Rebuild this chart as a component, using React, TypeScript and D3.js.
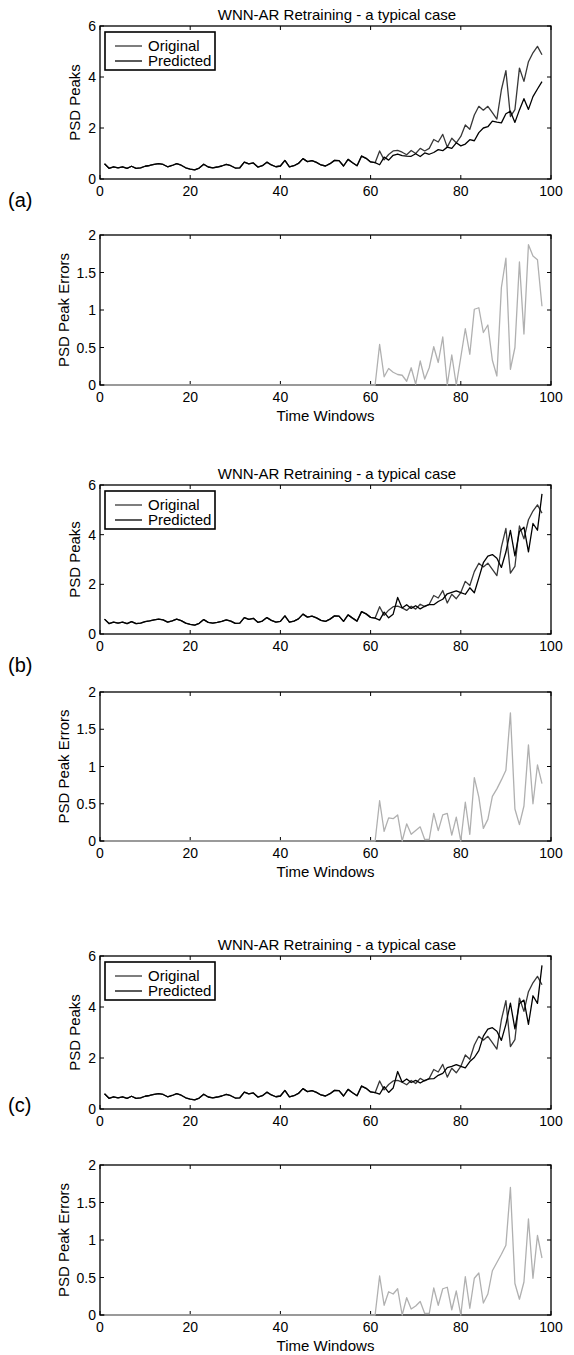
import React from "react";
import * as d3 from "d3";

// Time-window index 1..98
const windows: number[] = d3.range(1, 99);

// Original PSD peak series (shared by all three cases)
const originalPeaks: number[] = [
  0.60, 0.42, 0.48, 0.44, 0.48, 0.42, 0.50, 0.42, 0.44, 0.50,
  0.53, 0.57, 0.60, 0.57, 0.48, 0.53, 0.60, 0.54, 0.44, 0.39,
  0.36, 0.43, 0.58, 0.47, 0.44, 0.47, 0.51, 0.57, 0.52, 0.43,
  0.44, 0.66, 0.59, 0.63, 0.47, 0.52, 0.66, 0.55, 0.48, 0.51,
  0.73, 0.48, 0.52, 0.61, 0.80, 0.68, 0.72, 0.65, 0.55, 0.51,
  0.60, 0.73, 0.72, 0.51, 0.77, 0.64, 0.52, 0.90, 0.81, 0.67,
  0.64, 1.10, 0.75, 0.96, 1.10, 1.12, 1.05, 0.95, 1.12, 1.00,
  1.20, 1.10, 1.20, 1.55, 1.45, 1.75, 1.25, 1.60, 1.42, 1.67,
  2.12, 1.95, 2.51, 2.85, 2.70, 2.85, 2.60, 2.35, 3.50, 4.25,
  2.45, 2.72, 4.35, 3.83, 4.60, 4.95, 5.20, 4.87,
];

// Predictions after window 61 (before that the prediction equals the original)
const predictedTailA: number[] = [
  0.56, 0.86, 0.74, 0.93, 0.98, 0.92, 0.90, 0.89, 0.99,
  0.88, 1.02, 0.97, 1.04, 1.15, 1.11, 1.25, 1.20, 1.42, 1.30,
  1.37, 1.54, 1.50, 1.82, 2.00, 2.05, 2.27, 2.23, 2.20, 2.56,
  2.66, 2.22, 2.71, 3.15, 2.73, 3.23, 3.53, 3.82,
];
const predictedTailB: number[] = [
  0.56, 0.88, 0.65, 0.80, 1.47, 1.05, 1.18, 1.03, 1.14,
  1.01, 1.12, 1.18, 1.18, 1.31, 1.40, 1.62, 1.68, 1.74, 1.67,
  1.60, 1.86, 1.66, 2.26, 2.87, 3.14, 3.20, 3.05, 2.68, 3.30,
  4.17, 3.15, 4.13, 4.30, 3.31, 4.45, 4.18, 5.64,
];
const predictedTailC: number[] = [
  0.58, 0.88, 0.65, 0.82, 1.47, 1.05, 1.18, 1.04, 1.12,
  1.02, 1.12, 1.18, 1.19, 1.32, 1.40, 1.62, 1.67, 1.74, 1.67,
  1.61, 1.86, 2.02, 2.29, 2.86, 3.13, 3.19, 3.05, 2.69, 3.32,
  4.15, 3.14, 4.14, 4.27, 3.32, 4.44, 4.14, 5.63,
];

const predictedA = [...originalPeaks.slice(0, 61), ...predictedTailA];
const predictedB = [...originalPeaks.slice(0, 61), ...predictedTailB];
const predictedC = [...originalPeaks.slice(0, 61), ...predictedTailC];

// Peak errors: zero for windows 1..60
const errorHead: number[] = [
  0, 0, 0, 0, 0, 0, 0, 0, 0, 0, 0, 0, 0, 0, 0, 0, 0, 0, 0, 0,
  0, 0, 0, 0, 0, 0, 0, 0, 0, 0, 0, 0, 0, 0, 0, 0, 0, 0, 0, 0,
  0, 0, 0, 0, 0, 0, 0, 0, 0, 0, 0, 0, 0, 0, 0, 0, 0, 0, 0, 0,
];
const errorTailA: number[] = [
  0.00, 0.54, 0.11, 0.22, 0.17, 0.14, 0.13, 0.05, 0.23, 0.01,
  0.32, 0.08, 0.23, 0.51, 0.30, 0.64, 0.00, 0.40, 0.00, 0.37,
  0.75, 0.41, 1.01, 1.03, 0.70, 0.80, 0.33, 0.12, 1.30, 1.69,
  0.21, 0.50, 1.64, 0.68, 1.87, 1.72, 1.67, 1.05,
];
const errorTailB: number[] = [
  0.00, 0.54, 0.13, 0.31, 0.30, 0.35, 0.00, 0.23, 0.09, 0.14,
  0.19, 0.02, 0.02, 0.37, 0.14, 0.35, 0.37, 0.08, 0.32, 0.00,
  0.52, 0.09, 0.85, 0.59, 0.17, 0.29, 0.60, 0.70, 0.82, 0.95,
  1.72, 0.43, 0.22, 0.47, 1.29, 0.50, 1.02, 0.77,
];
const errorTailC: number[] = [
  0.00, 0.52, 0.13, 0.31, 0.28, 0.35, 0.00, 0.23, 0.08, 0.12,
  0.18, 0.02, 0.02, 0.36, 0.13, 0.35, 0.37, 0.07, 0.32, 0.00,
  0.51, 0.09, 0.49, 0.56, 0.16, 0.28, 0.59, 0.70, 0.81, 0.93,
  1.70, 0.42, 0.21, 0.44, 1.28, 0.49, 1.06, 0.76,
];
const errorA = [...errorHead, ...errorTailA];
const errorB = [...errorHead, ...errorTailB];
const errorC = [...errorHead, ...errorTailC];

const xTicks = [0, 20, 40, 60, 80, 100];
const peakTicks = [0, 2, 4, 6];
const errorTicks = [0, 0.5, 1, 1.5, 2];

const TITLE = "WNN-AR Retraining - a typical case";
const FONT = "'Liberation Sans', Arial, Helvetica, sans-serif";
const ORIGINAL_COLOR = "#383838";
const PREDICTED_COLOR = "#000000";
const ERROR_COLOR = "#b0b0b0";

const LEFT = 100;
const RIGHT = 551;

type Series = { values: number[]; color: string; width: number };

type PanelProps = {
  top: number;
  bottom: number;
  yMax: number;
  yTicks: number[];
  series: Series[];
  yLabel: string;
  yLabelX: number;
  title?: boolean;
  legend?: boolean;
  xLabel?: boolean;
};

function Panel({ top, bottom, yMax, yTicks, series, yLabel, yLabelX, title, legend, xLabel }: PanelProps) {
  const x = d3.scaleLinear().domain([0, 100]).range([LEFT, RIGHT]);
  const y = d3.scaleLinear().domain([0, yMax]).range([bottom, top]);
  const tickLen = 4;
  const midY = (top + bottom) / 2;

  return (
    <g>
      {/* tick marks on all four sides */}
      {xTicks.map((t) => (
        <g key={"xt" + t}>
          <line x1={x(t)} x2={x(t)} y1={bottom} y2={bottom - tickLen} stroke="#000" />
          <line x1={x(t)} x2={x(t)} y1={top} y2={top + tickLen} stroke="#000" />
          <text x={x(t)} y={bottom + 17} fontSize={14} textAnchor="middle" fontFamily={FONT}>
            {t}
          </text>
        </g>
      ))}
      {yTicks.map((t) => (
        <g key={"yt" + t}>
          <line x1={LEFT} x2={LEFT + tickLen} y1={y(t)} y2={y(t)} stroke="#000" />
          <line x1={RIGHT} x2={RIGHT - tickLen} y1={y(t)} y2={y(t)} stroke="#000" />
          <text x={LEFT - 4} y={y(t) + 5} fontSize={14} textAnchor="end" fontFamily={FONT}>
            {String(t)}
          </text>
        </g>
      ))}
      <rect x={LEFT} y={top} width={RIGHT - LEFT} height={bottom - top} fill="none" stroke="#000" strokeWidth={1.3} />

      {series.map((s, i) => {
        const line = d3
          .line<number>()
          .x((_, k) => x(windows[k]))
          .y((v) => y(v));
        return <path key={i} d={line(s.values) || ""} fill="none" stroke={s.color} strokeWidth={s.width} strokeLinejoin="round" />;
      })}

      <text
        transform={`translate(${yLabelX},${midY}) rotate(-90)`}
        fontSize={15}
        textAnchor="middle"
        fontFamily={FONT}
      >
        {yLabel}
      </text>

      {title && (
        <text x={337} y={top - 6} fontSize={15} textAnchor="middle" fontFamily={FONT}>
          {TITLE}
        </text>
      )}

      {xLabel && (
        <text x={(LEFT + RIGHT) / 2} y={bottom + 36} fontSize={15} textAnchor="middle" fontFamily={FONT}>
          Time Windows
        </text>
      )}

      {legend && (
        <g>
          <rect x={105} y={top + 6} width={110} height={38} fill="#fff" stroke="#000" strokeWidth={1.6} />
          <line x1={115} x2={142} y1={top + 20} y2={top + 20} stroke={ORIGINAL_COLOR} strokeWidth={1.3} />
          <line x1={115} x2={142} y1={top + 35} y2={top + 35} stroke={PREDICTED_COLOR} strokeWidth={1.3} />
          <text x={148} y={top + 25} fontSize={15} fontFamily={FONT}>
            Original
          </text>
          <text x={148} y={top + 40} fontSize={15} fontFamily={FONT}>
            Predicted
          </text>
        </g>
      )}
    </g>
  );
}

const cases = [
  { tag: "(a)", tagY: 207, up: [26, 179], low: [235, 385], pred: predictedA, err: errorA },
  { tag: "(b)", tagY: 672, up: [485, 634], low: [692, 841], pred: predictedB, err: errorB },
  { tag: "(c)", tagY: 1112, up: [956, 1109], low: [1165, 1315], pred: predictedC, err: errorC },
];

export default function App() {
  return (
    <svg
      width={574}
      height={1355}
      viewBox="0 0 574 1355"
      style={{ position: "absolute", left: 0, top: 0, display: "block", background: "#fff" }}
    >
      <rect width={574} height={1355} fill="#fff" />
      {cases.map((c) => (
        <g key={c.tag}>
          <Panel
            top={c.up[0]}
            bottom={c.up[1]}
            yMax={6}
            yTicks={peakTicks}
            yLabel="PSD Peaks"
            yLabelX={80}
            title
            legend
            series={[
              { values: originalPeaks, color: ORIGINAL_COLOR, width: 1.3 },
              { values: c.pred, color: PREDICTED_COLOR, width: 1.3 },
            ]}
          />
          <Panel
            top={c.low[0]}
            bottom={c.low[1]}
            yMax={2}
            yTicks={errorTicks}
            yLabel="PSD Peak Errors"
            yLabelX={69}
            xLabel
            series={[{ values: c.err, color: ERROR_COLOR, width: 1.3 }]}
          />
          <text x={8} y={c.tagY} fontSize={20} fontFamily={FONT}>
            {c.tag}
          </text>
        </g>
      ))}
    </svg>
  );
}
